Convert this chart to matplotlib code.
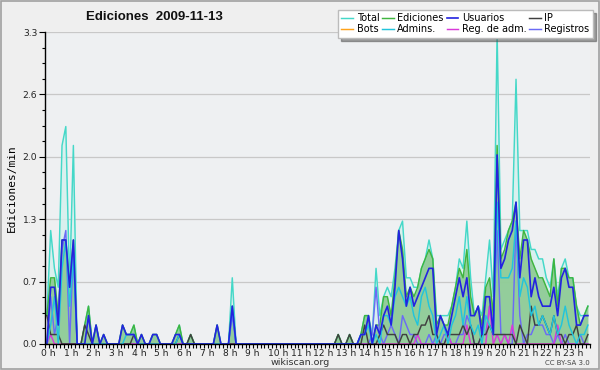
import matplotlib
matplotlib.use("Agg")
import matplotlib.pyplot as plt
import matplotlib.transforms as mtransforms
import numpy as np
from matplotlib.patches import Rectangle

# 10-minute buckets, values in edits/min (144 points per series)
total = [
    0.3, 1.2, 0.8, 0.6, 2.1, 2.3,   0.6, 2.1, 0.0, 0.0, 0.2, 0.4,
    0.0, 0.2, 0.0, 0.1, 0.0, 0.0,   0.0, 0.0, 0.2, 0.1, 0.1, 0.2,
    0.0, 0.1, 0.0, 0.0, 0.1, 0.1,   0.0, 0.0, 0.0, 0.0, 0.1, 0.2,
    0.0, 0.0, 0.1, 0.0, 0.0, 0.0,   0.0, 0.0, 0.0, 0.2, 0.0, 0.0,
    0.0, 0.7, 0.0, 0.0, 0.0, 0.0,   0.0, 0.0, 0.0, 0.0, 0.0, 0.0,
    0.0, 0.0, 0.0, 0.0, 0.0, 0.0,   0.0, 0.0, 0.0, 0.0, 0.0, 0.0,
    0.0, 0.0, 0.0, 0.0, 0.0, 0.1,   0.0, 0.0, 0.1, 0.0, 0.0, 0.1,
    0.3, 0.3, 0.1, 0.8, 0.3, 0.5,   0.6, 0.5, 0.8, 1.2, 1.3, 0.7,
    0.7, 0.6, 0.6, 0.8, 0.9, 1.1,   0.9, 0.3, 0.3, 0.3, 0.3, 0.4,
    0.6, 0.9, 0.8, 1.3, 0.7, 0.3,   0.4, 0.3, 0.7, 1.1, 0.5, 3.3,
    1.0, 1.1, 1.2, 1.3, 2.8, 1.2,   1.2, 1.2, 1.0, 1.0, 0.9, 0.9,
    0.7, 0.6, 0.9, 0.5, 0.8, 0.9,   0.7, 0.7, 0.4, 0.3, 0.3, 0.4,
]
ediciones = [
    0.3, 0.7, 0.7, 0.3, 1.1, 1.1,   0.6, 1.1, 0.0, 0.0, 0.2, 0.4,
    0.0, 0.2, 0.0, 0.1, 0.0, 0.0,   0.0, 0.0, 0.2, 0.1, 0.1, 0.2,
    0.0, 0.1, 0.0, 0.0, 0.1, 0.1,   0.0, 0.0, 0.0, 0.0, 0.1, 0.2,
    0.0, 0.0, 0.1, 0.0, 0.0, 0.0,   0.0, 0.0, 0.0, 0.2, 0.0, 0.0,
    0.0, 0.4, 0.0, 0.0, 0.0, 0.0,   0.0, 0.0, 0.0, 0.0, 0.0, 0.0,
    0.0, 0.0, 0.0, 0.0, 0.0, 0.0,   0.0, 0.0, 0.0, 0.0, 0.0, 0.0,
    0.0, 0.0, 0.0, 0.0, 0.0, 0.1,   0.0, 0.0, 0.1, 0.0, 0.0, 0.1,
    0.3, 0.3, 0.0, 0.2, 0.2, 0.5,   0.5, 0.3, 0.7, 1.2, 1.0, 0.5,
    0.6, 0.5, 0.6, 0.8, 0.9, 1.0,   0.9, 0.2, 0.3, 0.2, 0.2, 0.4,
    0.6, 0.8, 0.7, 1.0, 0.5, 0.3,   0.4, 0.2, 0.6, 0.7, 0.3, 2.1,
    0.9, 1.0, 1.2, 1.3, 1.5, 0.9,   1.2, 1.1, 0.9, 0.8, 0.7, 0.7,
    0.6, 0.5, 0.9, 0.4, 0.8, 0.8,   0.7, 0.7, 0.4, 0.2, 0.3, 0.4,
]
usuarios = [
    0.0, 0.6, 0.6, 0.2, 1.1, 1.1,   0.6, 1.1, 0.0, 0.0, 0.0, 0.3,
    0.0, 0.2, 0.0, 0.1, 0.0, 0.0,   0.0, 0.0, 0.2, 0.1, 0.1, 0.1,
    0.0, 0.1, 0.0, 0.0, 0.1, 0.1,   0.0, 0.0, 0.0, 0.0, 0.1, 0.1,
    0.0, 0.0, 0.0, 0.0, 0.0, 0.0,   0.0, 0.0, 0.0, 0.2, 0.0, 0.0,
    0.0, 0.4, 0.0, 0.0, 0.0, 0.0,   0.0, 0.0, 0.0, 0.0, 0.0, 0.0,
    0.0, 0.0, 0.0, 0.0, 0.0, 0.0,   0.0, 0.0, 0.0, 0.0, 0.0, 0.0,
    0.0, 0.0, 0.0, 0.0, 0.0, 0.0,   0.0, 0.0, 0.0, 0.0, 0.0, 0.1,
    0.1, 0.3, 0.0, 0.2, 0.1, 0.3,   0.4, 0.2, 0.6, 1.2, 0.9, 0.4,
    0.6, 0.4, 0.5, 0.6, 0.7, 0.8,   0.8, 0.1, 0.3, 0.2, 0.1, 0.3,
    0.5, 0.7, 0.5, 0.7, 0.3, 0.3,   0.4, 0.1, 0.5, 0.5, 0.1, 2.0,
    0.8, 0.9, 1.1, 1.2, 1.5, 0.7,   1.1, 1.1, 0.5, 0.7, 0.5, 0.4,
    0.4, 0.4, 0.6, 0.3, 0.7, 0.8,   0.6, 0.6, 0.2, 0.2, 0.3, 0.3,
]
ip = [
    0.3, 0.1, 0.1, 0.1, 0.0, 0.0,   0.0, 0.0, 0.0, 0.0, 0.2, 0.1,
    0.0, 0.0, 0.0, 0.0, 0.0, 0.0,   0.0, 0.0, 0.0, 0.0, 0.0, 0.1,
    0.0, 0.0, 0.0, 0.0, 0.0, 0.0,   0.0, 0.0, 0.0, 0.0, 0.0, 0.1,
    0.0, 0.0, 0.1, 0.0, 0.0, 0.0,   0.0, 0.0, 0.0, 0.0, 0.0, 0.0,
    0.0, 0.0, 0.0, 0.0, 0.0, 0.0,   0.0, 0.0, 0.0, 0.0, 0.0, 0.0,
    0.0, 0.0, 0.0, 0.0, 0.0, 0.0,   0.0, 0.0, 0.0, 0.0, 0.0, 0.0,
    0.0, 0.0, 0.0, 0.0, 0.0, 0.1,   0.0, 0.0, 0.1, 0.0, 0.0, 0.0,
    0.2, 0.0, 0.0, 0.0, 0.1, 0.2,   0.1, 0.1, 0.1, 0.0, 0.1, 0.1,
    0.0, 0.1, 0.1, 0.2, 0.2, 0.3,   0.1, 0.1, 0.0, 0.0, 0.1, 0.1,
    0.1, 0.1, 0.2, 0.1, 0.2, 0.0,   0.0, 0.1, 0.1, 0.2, 0.1, 0.1,
    0.1, 0.1, 0.1, 0.1, 0.0, 0.2,   0.1, 0.0, 0.4, 0.2, 0.2, 0.3,
    0.2, 0.1, 0.3, 0.1, 0.1, 0.0,   0.1, 0.1, 0.2, 0.0, 0.0, 0.1,
]
bots = [0.0] * 144
admins = [
    0.0, 0.2, 0.5, 0.0, 0.8, 1.1,   0.4, 0.9, 0.0, 0.0, 0.0, 0.0,
    0.0, 0.0, 0.0, 0.0, 0.0, 0.0,   0.0, 0.0, 0.0, 0.1, 0.1, 0.1,
    0.0, 0.0, 0.0, 0.0, 0.0, 0.0,   0.0, 0.0, 0.0, 0.0, 0.0, 0.1,
    0.0, 0.0, 0.0, 0.0, 0.0, 0.0,   0.0, 0.0, 0.0, 0.0, 0.0, 0.0,
    0.0, 0.4, 0.0, 0.0, 0.0, 0.0,   0.0, 0.0, 0.0, 0.0, 0.0, 0.0,
    0.0, 0.0, 0.0, 0.0, 0.0, 0.0,   0.0, 0.0, 0.0, 0.0, 0.0, 0.0,
    0.0, 0.0, 0.0, 0.0, 0.0, 0.0,   0.0, 0.0, 0.0, 0.0, 0.0, 0.1,
    0.1, 0.2, 0.0, 0.1, 0.0, 0.3,   0.3, 0.2, 0.5, 0.6, 0.5, 0.4,
    0.5, 0.3, 0.2, 0.5, 0.6, 0.4,   0.3, 0.0, 0.1, 0.2, 0.0, 0.2,
    0.3, 0.5, 0.2, 0.5, 0.2, 0.1,   0.2, 0.0, 0.3, 0.2, 0.1, 1.5,
    0.7, 0.7, 0.7, 0.8, 1.3, 0.5,   0.7, 0.6, 0.3, 0.4, 0.2, 0.3,
    0.2, 0.1, 0.3, 0.1, 0.2, 0.4,   0.2, 0.1, 0.0, 0.1, 0.1, 0.2,
]
reg_adm = [
    0.0, 0.1, 0.0, 0.0, 0.0, 0.0,   0.0, 0.0, 0.0, 0.0, 0.0, 0.0,
    0.0, 0.0, 0.0, 0.0, 0.0, 0.0,   0.0, 0.0, 0.0, 0.0, 0.0, 0.0,
    0.0, 0.0, 0.0, 0.0, 0.0, 0.0,   0.0, 0.0, 0.0, 0.0, 0.0, 0.0,
    0.0, 0.0, 0.0, 0.0, 0.0, 0.0,   0.0, 0.0, 0.0, 0.0, 0.0, 0.0,
    0.0, 0.0, 0.0, 0.0, 0.0, 0.0,   0.0, 0.0, 0.0, 0.0, 0.0, 0.0,
    0.0, 0.0, 0.0, 0.0, 0.0, 0.0,   0.0, 0.0, 0.0, 0.0, 0.0, 0.0,
    0.0, 0.0, 0.0, 0.0, 0.0, 0.0,   0.0, 0.0, 0.0, 0.0, 0.0, 0.0,
    0.0, 0.0, 0.0, 0.0, 0.0, 0.0,   0.0, 0.0, 0.0, 0.0, 0.0, 0.0,
    0.0, 0.0, 0.1, 0.0, 0.0, 0.0,   0.0, 0.0, 0.0, 0.0, 0.1, 0.0,
    0.0, 0.0, 0.0, 0.2, 0.0, 0.0,   0.0, 0.0, 0.0, 0.4, 0.0, 0.1,
    0.0, 0.1, 0.0, 0.2, 0.0, 0.0,   0.0, 0.0, 0.0, 0.0, 0.0, 0.0,
    0.0, 0.0, 0.0, 0.2, 0.0, 0.0,   0.0, 0.0, 0.0, 0.0, 0.0, 0.0,
]
registros = [
    0.0, 0.5, 0.1, 0.3, 1.0, 1.2,   0.0, 1.0, 0.0, 0.0, 0.0, 0.0,
    0.0, 0.0, 0.0, 0.0, 0.0, 0.0,   0.0, 0.0, 0.0, 0.0, 0.0, 0.0,
    0.0, 0.0, 0.0, 0.0, 0.0, 0.0,   0.0, 0.0, 0.0, 0.0, 0.0, 0.0,
    0.0, 0.0, 0.0, 0.0, 0.0, 0.0,   0.0, 0.0, 0.0, 0.0, 0.0, 0.0,
    0.0, 0.3, 0.0, 0.0, 0.0, 0.0,   0.0, 0.0, 0.0, 0.0, 0.0, 0.0,
    0.0, 0.0, 0.0, 0.0, 0.0, 0.0,   0.0, 0.0, 0.0, 0.0, 0.0, 0.0,
    0.0, 0.0, 0.0, 0.0, 0.0, 0.0,   0.0, 0.0, 0.0, 0.0, 0.0, 0.0,
    0.0, 0.0, 0.1, 0.6, 0.1, 0.0,   0.1, 0.2, 0.1, 0.0, 0.3, 0.2,
    0.1, 0.1, 0.0, 0.0, 0.0, 0.1,   0.0, 0.1, 0.0, 0.1, 0.1, 0.0,
    0.0, 0.1, 0.1, 0.3, 0.2, 0.0,   0.0, 0.1, 0.1, 0.4, 0.2, 1.2,
    0.1, 0.1, 0.0, 0.0, 1.3, 0.3,   0.0, 0.1, 0.1, 0.2, 0.2, 0.2,
    0.1, 0.1, 0.0, 0.1, 0.0, 0.1,   0.0, 0.0, 0.0, 0.1, 0.0, 0.0,
]
hour_labels = [f"{h} h" for h in range(24)]
ytick_values = [0.0, 0.66, 1.32, 1.98, 2.64, 3.3]
ytick_labels = ["0.0", "0.7", "1.3", "2.0", "2.6", "3.3"]

x = (np.arange(len(total)) + 0.5) / 6.0  # hours, bucket centres

fig = plt.figure(figsize=(6.0, 3.7), dpi=100, facecolor="#efefef")
ax = fig.add_axes([0.075, 0.0703, 0.908, 0.8432])
ax.set_facecolor("#eef0f2")

fig.patches.append(Rectangle((0.002, 0.003), 0.996, 0.994, transform=fig.transFigure,
                             fill=False, edgecolor="#a0a0a0", lw=1.2))

c_total = "#44d8c8"
c_edit = "#3fb53f"
c_user = "#2323e0"
c_ip = "#404040"
c_bots = "#ffa31a"
c_adm = "#22c4dc"
c_regadm = "#d93ad9"
c_reg = "#6b6bf5"

lw = 1.05
ax.fill_between(x, total, 0, color="#d6f1ee", alpha=0.85, lw=0, zorder=1)
ax.fill_between(x, ediciones, 0, color="#7cc27f", alpha=0.75, lw=0, zorder=2)
l_bots, = ax.plot(x, bots, color=c_bots, lw=lw, zorder=2.5)
l_total, = ax.plot(x, total, color=c_total, lw=lw, zorder=3)
l_edit, = ax.plot(x, ediciones, color=c_edit, lw=lw, zorder=3.1)
l_reg, = ax.plot(x, registros, color=c_reg, lw=lw, zorder=3.2)
l_regadm, = ax.plot(x, reg_adm, color=c_regadm, lw=lw, zorder=3.3)
l_ip, = ax.plot(x, ip, color=c_ip, lw=lw, zorder=3.4)
l_adm, = ax.plot(x, admins, color=c_adm, lw=lw, zorder=3.5)
l_user, = ax.plot(x, usuarios, color=c_user, lw=lw * 1.15, zorder=3.6)

ax.set_xlim(0, 24)
ax.set_ylim(0, 3.3)
ax.set_yticks(ytick_values)
ax.set_yticklabels(ytick_labels)
ax.set_yticks(np.arange(0, 3.3001, 0.165), minor=True)
ax.set_xticks(range(24))
ax.set_xticklabels(hour_labels)
ax.set_xticks(np.arange(0, 24.001, 1 / 6), minor=True)
ax.tick_params(axis="both", which="major", labelsize=6.6, width=0.8,
               color="black", labelcolor="#222222")
ax.tick_params(axis="y", which="major", length=4, pad=1.5)
ax.tick_params(axis="x", which="major", length=3, pad=0.8)
ax.tick_params(axis="y", which="minor", length=2.5, width=0.8)
ax.tick_params(axis="x", which="minor", length=3, width=0.8)
offset = mtransforms.ScaledTranslation(-4 / 100, 0, fig.dpi_scale_trans)
for lab in ax.get_xticklabels():
    lab.set_horizontalalignment("left")
    lab.set_transform(lab.get_transform() + offset)

ax.grid(axis="y", which="major", color="#c8c8c8", lw=0.9, zorder=0)
ax.set_axisbelow(True)
for s in ("top", "right"):
    ax.spines[s].set_visible(False)
for s in ("left", "bottom"):
    ax.spines[s].set_color("black")
    ax.spines[s].set_linewidth(1.0)
    ax.spines[s].set_zorder(10)

ax.set_ylabel("Ediciones/min", fontsize=8, family="DejaVu Sans Mono", labelpad=4)

fig.text(0.258, 0.954, "Ediciones  2009-11-13", ha="center", va="center",
         fontsize=9.5, fontweight="bold", family="Liberation Sans", color="#111111")
fig.text(0.5, 0.019, "wikiscan.org", ha="center", va="center", fontsize=6.8, color="#333333")
fig.text(0.983, 0.019, "CC BY-SA 3.0", ha="right", va="center", fontsize=5, color="#444444")

handles = [l_total, l_bots, l_edit, l_adm, l_user, l_regadm, l_ip, l_reg]
labels = ["Total", "Bots", "Ediciones", "Admins.", "Usuarios", "Reg. de adm.", "IP", "Registros"]
leg = fig.legend(handles, labels, ncol=4, loc="upper right", bbox_to_anchor=(0.988, 0.973),
                 fontsize=7.0, frameon=True, fancybox=False, shadow=True,
                 handlelength=1.2, handletextpad=0.35, columnspacing=0.3,
                 borderpad=0.35, labelspacing=0.1, borderaxespad=0.0)
leg.get_frame().set_edgecolor("#bbbbbb")
leg.get_frame().set_facecolor("white")
leg.get_frame().set_alpha(1.0)
leg.set_zorder(20)

fig.savefig("out.png", dpi=100, facecolor=fig.get_facecolor())
